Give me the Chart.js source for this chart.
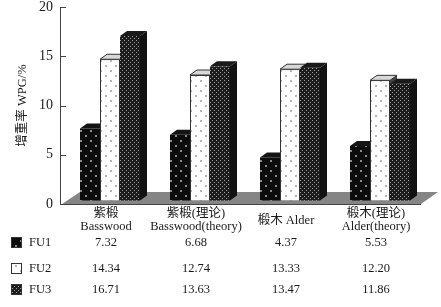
<!DOCTYPE html>
<html>
<head>
<meta charset="utf-8">
<style>
html, body { margin: 0; padding: 0; background: #fff; }
#wrap { position: relative; width: 441px; height: 307px; }
#chart { display: block; filter: blur(0.4px); }
</style>
<script src="https://cdn.jsdelivr.net/npm/chart.js@4/dist/chart.umd.min.js"></script>
</head>
<body>
<div id="wrap"><canvas id="chart" width="441" height="307"></canvas></div>
<script>
const categories = [['紫椴', 'Basswood'], ['紫椴(理论)', 'Basswood(theory)'], '椴木 Alder', ['椴木(理论)', 'Alder(theory)']];
const seriesNames = ['FU1', 'FU2', 'FU3'];
const fu1 = [7.32, 6.68, 4.37, 5.53];
const fu2 = [14.34, 12.74, 13.33, 12.20];
const fu3 = [16.71, 13.63, 13.47, 11.86];
const yTicks = [0, 5, 10, 15, 20];
const textColor = '#1a1a1a';
const fontFamily = '"Liberation Serif", "Noto Sans CJK SC", serif';

function makePattern(bg, dot, step, size) {
    const c = document.createElement('canvas');
    c.width = step;
    c.height = step;
    const g = c.getContext('2d');
    g.fillStyle = bg;
    g.fillRect(0, 0, step, step);
    g.fillStyle = dot;
    g.fillRect(0, 0, size, size);
    g.fillRect(step / 2, step / 2, size, size);
    return g.createPattern(c, 'repeat');
}

const ctx = document.getElementById('chart').getContext('2d');
const fills = [
    makePattern('#0c0c0c', '#8a8a8a', 10, 2),
    makePattern('#ffffff', '#b4b4b4', 10, 2),
    makePattern('#1c1c1c', '#a0a0a0', 4, 1)
];
const sideColors = ['#0a0a0a', '#444444', '#121212'];
const topColors = ['#141414', '#d8d8d8', '#1a1a1a'];

// depth of the fake 3D bars
const depthX = 7;
const depthY = 5;

const fake3d = {
    id: 'fake3d',
    beforeDatasetsDraw(chart) {
        const c = chart.ctx;
        const area = chart.chartArea;
        const y = chart.scales.y;
        const axisX = area.left - 5;
        c.save();
        // floor
        c.fillStyle = '#858585';
        c.beginPath();
        c.moveTo(axisX + 2, area.bottom);
        c.lineTo(axisX + 20, area.bottom - 12);
        c.lineTo(area.right + 13, area.bottom - 12);
        c.lineTo(area.right - 4, area.bottom);
        c.closePath();
        c.fill();
        // axes
        c.strokeStyle = '#444';
        c.lineWidth = 1;
        c.beginPath();
        c.moveTo(axisX + 0.5, y.getPixelForValue(20));
        c.lineTo(axisX + 0.5, area.bottom + 0.5);
        c.lineTo(area.right - 4, area.bottom + 0.5);
        yTicks.forEach(t => {
            const py = Math.round(y.getPixelForValue(t)) + 0.5;
            c.moveTo(axisX, py);
            c.lineTo(axisX + 6, py);
        });
        c.stroke();
        // tops and sides go first, left to right, the front faces then cover them
        [0, 1, 2].forEach(i => {
            chart.getDatasetMeta(i).data.forEach(bar => {
                const l = bar.x - bar.width / 2;
                const r = bar.x + bar.width / 2;
                const t = bar.y;
                const b = bar.base;
                c.fillStyle = topColors[i];
                c.beginPath();
                c.moveTo(l, t);
                c.lineTo(l + depthX, t - depthY);
                c.lineTo(r + depthX, t - depthY);
                c.lineTo(r, t);
                c.closePath();
                c.fill();
                if (i === 1) {
                    c.strokeStyle = '#333';
                    c.stroke();
                }
                c.fillStyle = sideColors[i];
                c.beginPath();
                c.moveTo(r, t);
                c.lineTo(r + depthX, t - depthY);
                c.lineTo(r + depthX, b - depthY);
                c.lineTo(r, b);
                c.closePath();
                c.fill();
            });
        });
        c.restore();
    },
    afterDraw(chart) {
        // data table under the chart
        const c = chart.ctx;
        const rows = [fu1, fu2, fu3];
        const rowY = [243, 269, 290];
        const x = chart.scales.x;
        c.save();
        c.font = '12.5px ' + fontFamily;
        c.textBaseline = 'middle';
        rows.forEach((row, i) => {
            c.fillStyle = fills[i];
            c.fillRect(11, rowY[i] - 6, 11, 11);
            c.strokeStyle = '#333';
            c.lineWidth = 1;
            c.strokeRect(11.5, rowY[i] - 5.5, 10, 10);
            c.fillStyle = textColor;
            c.textAlign = 'left';
            c.fillText(seriesNames[i], 29, rowY[i]);
            c.textAlign = 'center';
            row.forEach((v, j) => {
                c.fillText(v.toFixed(2), x.getPixelForValue(j) - 4, rowY[i]);
            });
        });
        c.restore();
    }
};

new Chart(ctx, {
    type: 'bar',
    data: {
        labels: categories,
        datasets: [
            { label: seriesNames[0], data: fu1, backgroundColor: fills[0], yAxisID: 'yBars' },
            { label: seriesNames[1], data: fu2, backgroundColor: fills[1], borderColor: '#333', borderWidth: 1, yAxisID: 'yBars' },
            { label: seriesNames[2], data: fu3, backgroundColor: fills[2], yAxisID: 'yBars' }
        ]
    },
    options: {
        responsive: false,
        animation: false,
        layout: { padding: { top: 7, right: 16 } },
        categoryPercentage: 60 / 90,
        barPercentage: 1,
        plugins: { legend: { display: false }, tooltip: { enabled: false } },
        scales: {
            x: {
                grid: { display: false },
                border: { display: false },
                afterFit(scale) {
                    scale.height = 103;
                    scale.paddingLeft = 0;
                    scale.paddingRight = 0;
                },
                ticks: {
                    padding: 2,
                    labelOffset: -4,
                    maxRotation: 0,
                    autoSkip: false,
                    crossAlign: 'center',
                    color: textColor,
                    font: { family: fontFamily, size: 12.5, lineHeight: 1.0 }
                }
            },
            y: {
                min: 0,
                max: 20,
                grid: { display: false },
                border: { display: false },
                afterFit(scale) {
                    scale.width = 65;
                    scale.paddingTop = 0;
                    scale.paddingBottom = 0;
                },
                afterBuildTicks(scale) { scale.ticks = yTicks.map(v => ({ value: v })); },
                ticks: {
                    padding: 4,
                    color: textColor,
                    font: { family: fontFamily, size: 14 }
                },
                title: {
                    display: true,
                    text: '增重率 WPG/%',
                    color: textColor,
                    padding: { top: 15, bottom: 0 },
                    font: { family: fontFamily, size: 12.5 }
                }
            },
            // bars stand a little behind the front edge of the floor
            yBars: {
                display: false,
                min: -0.355,
                max: 19.645
            }
        }
    },
    plugins: [fake3d]
});
</script>
</body>
</html>
